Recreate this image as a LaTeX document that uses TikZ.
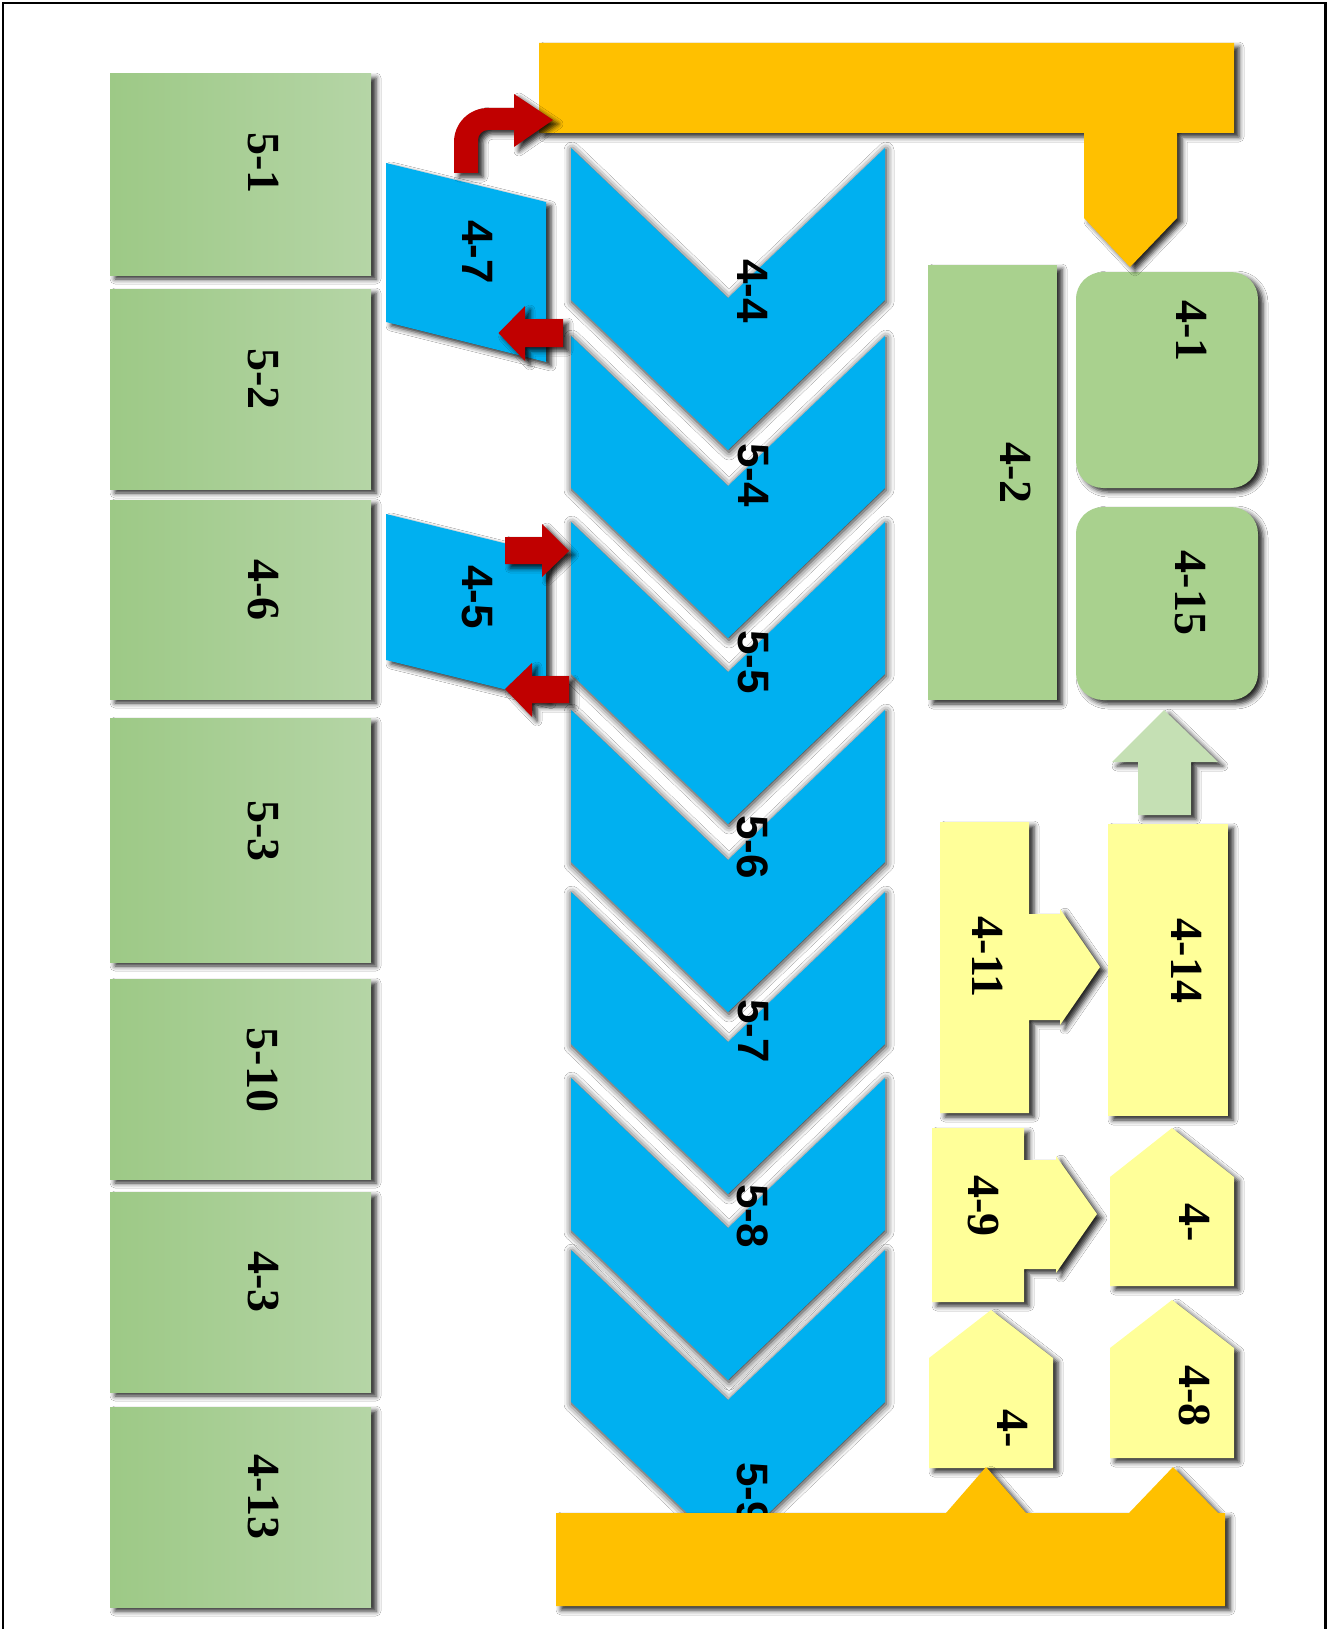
\documentclass[tikz,border=0pt]{standalone}
\usepackage{fontspec}
\setmainfont{Liberation Serif}
\newfontfamily\sansfam{Liberation Sans}
\usetikzlibrary{shadows.blur}
\definecolor{gold}{HTML}{FFC000}
\definecolor{skyb}{HTML}{00B0F0}
\definecolor{redd}{HTML}{C00000}
\definecolor{lgreen}{HTML}{A9D18E}
\definecolor{pgreen}{HTML}{C5E0B4}
\definecolor{lyellow}{HTML}{FFFF99}
\definecolor{gradL}{HTML}{9DC986}
\definecolor{gradR}{HTML}{B5D5A6}
\tikzset{
  shad/.style={blur shadow={shadow xshift=5pt, shadow yshift=-4pt, shadow blur radius=5pt, shadow opacity=85}},
  cshad/.style={blur shadow={shadow xshift=1pt, shadow yshift=-2pt, shadow blur radius=8pt, shadow opacity=90}},
  gbox/.style={shad, left color=gradL, right color=gradR},
  sgreen/.style={shad, fill=lgreen},
  syellow/.style={shad, fill=lyellow},
  sblue/.style={shad, fill=skyb},
  chev/.style={cshad, fill=skyb},
  sred/.style={shad, fill=redd},
  sgold/.style={shad, fill=gold},
  serlab/.style={font=\bfseries\fontsize{46}{50}\selectfont, rotate=-90, inner sep=0pt},
  sanlab/.style={font=\sansfam\bfseries\fontsize{44}{48}\selectfont, rotate=-90, inner sep=0pt},
}
\begin{document}
\begin{tikzpicture}[x=1pt, y=-1pt]
\useasboundingbox (0,0) rectangle (1330,1629);
\fill[white] (0,0) rectangle (1330,1629);
% frame
\draw[line width=2.3pt] (3,1629) -- (3,3) -- (1325.5,3) -- (1325.5,1629);

% left green boxes
\path[gbox] (110,74) rectangle (371,275);
\path[gbox] (110,289) rectangle (371,489);
\path[gbox] (110,500) rectangle (371,699);
\path[gbox] (110,718) rectangle (371,962);
\path[gbox] (110,979) rectangle (371,1179);
\path[gbox] (110,1192) rectangle (371,1392);
\path[gbox] (110,1407) rectangle (371,1607);
\node[serlab] (l51) at (263,163) {5-1};
\node[serlab] (l52) at (263,379) {5-2};
\node[serlab] (l46) at (263,590) {4-6};
\node[serlab] (l53) at (263,831) {5-3};
\node[serlab] (l510) at (263,1070) {5-10};
\node[serlab] (l43) at (263,1282) {4-3};
\node[serlab] (l413) at (263,1497) {4-13};

% right green
\path[sgreen] (928,265) rectangle (1057,700);
\path[sgreen, rounded corners=27pt] (1076,272) rectangle (1258,488);
\path[sgreen, rounded corners=27pt] (1076,507) rectangle (1258,700);
\node[serlab] (l42) at (1016,473) {4-2};
\node[serlab] (l41) at (1192,331) {4-1};
\node[serlab] (l415) at (1190,593) {4-15};

% light green up arrow
\path[shad, fill=pgreen] (1164,710) -- (1218,762) -- (1191,762) -- (1191,815) -- (1138,815) -- (1138,762) -- (1112,762) -- cycle;

% yellow shapes
\path[syellow] (940,822) -- (1029,822) -- (1029,914) -- (1060,914) -- (1060,909) -- (1100,967) -- (1060,1025) -- (1060,1020) -- (1029,1020) -- (1029,1113) -- (940,1113) -- cycle;
\path[syellow] (1108,824) rectangle (1228,1116);
\path[syellow] (932,1128) -- (1024,1128) -- (1024,1160) -- (1056,1160) -- (1056,1156) -- (1097,1214) -- (1056,1273) -- (1056,1269) -- (1024,1269) -- (1024,1302) -- (932,1302) -- cycle;
\path[syellow] (1110,1177) -- (1172,1128) -- (1234,1177) -- (1234,1286) -- (1110,1286) -- cycle;
\path[syellow] (1110,1348) -- (1172,1300) -- (1234,1348) -- (1234,1458) -- (1110,1458) -- cycle;
\path[syellow] (929,1358) -- (991,1310) -- (1053,1358) -- (1053,1468) -- (929,1468) -- cycle;
\node[serlab] (l411) at (988,957) {4-11};
\node[serlab] (l414) at (1187,961) {4-14};
\node[serlab] (l49) at (983,1206) {4-9};
\node[serlab] (l4a) at (1194.5,1223) {4-};
\node[serlab] (l48) at (1194.5,1396) {4-8};
\node[serlab] (l4b) at (1012.5,1428.5) {4-};

% blue parallelograms
\path[sblue] (386,163) -- (546,202) -- (546,362) -- (386,322) -- cycle;
\path[sblue] (386,514) -- (546,553.5) -- (546,699.5) -- (386,660) -- cycle;
\node[sanlab] (l47) at (478,252) {4-7};
\node[sanlab] (l45) at (477.5,597) {4-5};

% chevrons
\foreach \t/\lab/\ly [count=\i] in {148/4-4/291, 336/5-4/475, 522/5-5/662, 710/5-6/847, 892/5-7/1031, 1078/5-8/1216, 1250/5-9/1494}{
  \path[chev] (571,\t) -- (728,{\t+150}) -- (885,\t) -- (885,{\t+152}) -- (728,{\t+302}) -- (571,{\t+152}) -- cycle;
  \node[sanlab] (c\i) at (753,\ly) {\lab};
}

% top bar
\path[sgold] (539,43) -- (1234,43) -- (1234,133) -- (1177,133) -- (1177,218) -- (1130,267) -- (1084,218) -- (1084,133) -- (539,133) -- cycle;

% red arrows
\path[sred] (454,173) -- (454,142) .. controls (454,123.2) and (469.2,108) .. (488,108) -- (514,108) -- (514,94) -- (553,120) -- (514,147) -- (514,130) -- (488,130) .. controls (482.5,130) and (478,134.5) .. (478,140) -- (478,173) -- cycle;
\path[sred] (563,319) -- (525,319) -- (525,306) -- (498.5,333) -- (525,361) -- (525,347) -- (563,347) -- cycle;
\path[sred] (505,537) -- (542,537) -- (542,524) -- (569,551) -- (542,577) -- (542,564) -- (505,564) -- cycle;
\path[sred] (569,676) -- (532,676) -- (532,663) -- (505,689) -- (532,717) -- (532,703) -- (569,703) -- cycle;

% bottom bar
\path[sgold] (556,1513) -- (946,1513) -- (986,1467) -- (1026,1513) -- (1129,1513) -- (1173,1467) -- (1218,1513) -- (1225,1513) -- (1225,1606) -- (556,1606) -- cycle;
\end{tikzpicture}
\end{document}
